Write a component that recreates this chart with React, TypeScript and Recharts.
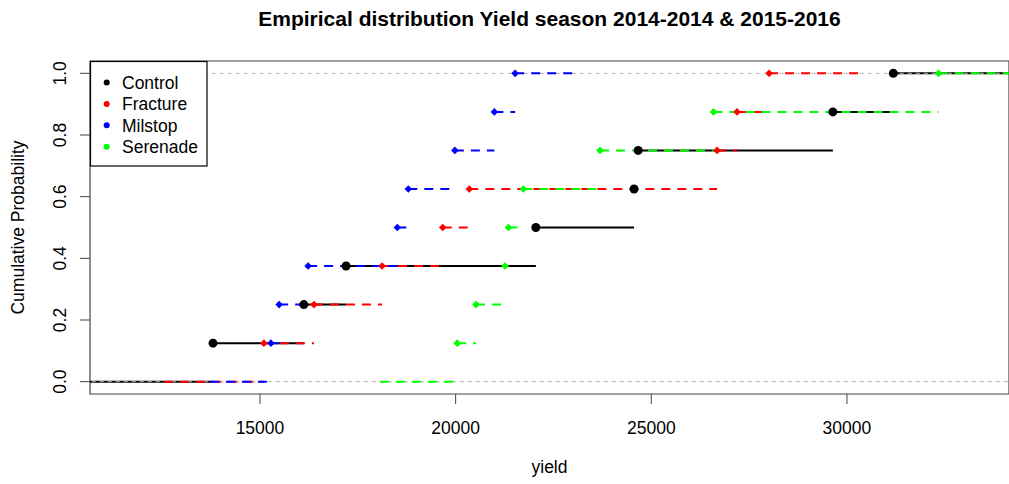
import React from "react";
import { ComposedChart, Line, XAxis, YAxis, ReferenceArea } from "recharts";

// ECDF step heights (8 observations per treatment)
const probs = [0.125, 0.25, 0.375, 0.5, 0.625, 0.75, 0.875, 1.0];

const seriesNames = ["Control", "Fracture", "Milstop", "Serenade"];
const seriesColors = ["#000000", "#ff0000", "#0000ff", "#00ff00"];

// sorted yields (knots)
const controlYield = [13800, 16120, 17200, 22050, 24560, 24665, 29640, 31185];
const fractureYield = [15100, 16380, 18120, 19670, 20350, 26680, 27190, 28010];
const milstopYield = [15280, 15490, 16230, 18510, 18790, 19980, 20990, 21520];
const serenadeYield = [20040, 20520, 21260, 21350, 21730, 23690, 26590, 32340];

// where each step function's first / last horizontal segment starts / stops
const lineStart = [9000, 12550, 13720, 18070];
const lineEnd = [36000, 30410, 23050, 36000];

const xTicks = [15000, 20000, 25000, 30000];
const yTicks = [0, 0.2, 0.4, 0.6, 0.8, 1.0];

const X_MIN = 10656;
const X_MAX = 34141;
const Y_MIN = -0.04;
const Y_MAX = 1.04;

const FONT = "'Liberation Sans', Arial, Helvetica, sans-serif";

const allYields = [controlYield, fractureYield, milstopYield, serenadeYield];

type Pt = { x: number; y: number | null; mark?: boolean };

function stepData(knots: number[], start: number, end: number): Pt[] {
  const out: Pt[] = [];
  const xs = [start, ...knots, end];
  const ys = [0, ...probs];
  for (let i = 0; i < ys.length; i++) {
    out.push({ x: xs[i], y: ys[i], mark: i > 0 });
    out.push({ x: xs[i + 1], y: ys[i] });
    out.push({ x: xs[i + 1], y: null });
  }
  return out;
}

const series = seriesNames.map((name, i) => ({
  name,
  color: seriesColors[i],
  data: stepData(allYields[i], lineStart[i], lineEnd[i]),
}));

const zeroLine: Pt[] = [
  { x: X_MIN - 2000, y: 0 },
  { x: X_MAX + 2000, y: 0 },
  { x: X_MAX + 2000, y: null },
  { x: X_MIN - 2000, y: 1 },
  { x: X_MAX + 2000, y: 1 },
];

const makeDot = (color: string, circle: boolean) => (props: any) => {
  const { cx, cy, payload, index } = props;
  if (!payload || !payload.mark || cy == null || cx == null) return <g key={index} />;
  if (circle) return <circle key={index} cx={cx} cy={cy} r={4.5} fill={color} />;
  const s = 3.8;
  return (
    <polygon
      key={index}
      points={`${cx},${cy - s} ${cx + s},${cy} ${cx},${cy + s} ${cx - s},${cy}`}
      fill={color}
    />
  );
};

const XTick = ({ x, payload }: any) => (
  <text x={x} y={434} textAnchor="middle" fontSize={17.5} fill="#000" fontFamily={FONT}>
    {payload.value}
  </text>
);

const YTick = ({ y, payload }: any) => (
  <text
    transform={`translate(66,${y}) rotate(-90)`}
    textAnchor="middle"
    fontSize={17.5}
    fill="#000"
    fontFamily={FONT}
  >
    {Number(payload.value).toFixed(1)}
  </text>
);

export default function App() {
  return (
    <div style={{ position: "absolute", left: 0, top: 0, width: 1009, height: 484, background: "#fff" }}>
      <ComposedChart width={1009} height={484} margin={{ top: 61, right: 0, left: 0, bottom: 0 }}>
        <XAxis
          type="number"
          dataKey="x"
          domain={[X_MIN, X_MAX]}
          allowDataOverflow
          ticks={xTicks}
          height={90}
          tickSize={10}
          axisLine={false}
          tickLine={{ stroke: "#444" }}
          tick={<XTick />}
        />
        <YAxis
          type="number"
          dataKey="y"
          domain={[Y_MIN, Y_MAX]}
          allowDataOverflow
          ticks={yTicks}
          width={90}
          tickSize={10}
          axisLine={false}
          tickLine={{ stroke: "#444" }}
          tick={<YTick />}
        />
        <ReferenceArea x1={X_MIN} x2={X_MAX} y1={Y_MIN} y2={Y_MAX} fill="none" stroke="#444" strokeWidth={1.2} />
        <Line
          data={series[0].data}
          dataKey="y"
          type="linear"
          stroke={series[0].color}
          strokeWidth={2}
          dot={makeDot(series[0].color, true)}
          activeDot={false}
          isAnimationActive={false}
        />
        <Line
          data={zeroLine}
          dataKey="y"
          type="linear"
          stroke="#b3b3b3"
          strokeWidth={1}
          strokeDasharray="4 4"
          dot={false}
          activeDot={false}
          isAnimationActive={false}
        />
        {series.slice(1).map((s) => (
          <Line
            key={s.name}
            data={s.data}
            dataKey="y"
            type="linear"
            stroke={s.color}
            strokeWidth={2}
            strokeDasharray="9 7"
            dot={makeDot(s.color, false)}
            activeDot={false}
            isAnimationActive={false}
          />
        ))}
      </ComposedChart>
      <svg
        width={1009}
        height={484}
        style={{ position: "absolute", left: 0, top: 0, pointerEvents: "none" }}
      >
        <text x={549.5} y={26} textAnchor="middle" fontSize={21} fontWeight="bold" fontFamily={FONT} fill="#000">
          Empirical distribution Yield season 2014-2014 &amp; 2015-2016
        </text>
        <text x={549.5} y={473} textAnchor="middle" fontSize={17.5} fontFamily={FONT} fill="#000">
          yield
        </text>
        <text
          transform="translate(24,227.5) rotate(-90)"
          textAnchor="middle"
          fontSize={17.5}
          fontFamily={FONT}
          fill="#000"
        >
          Cumulative Probability
        </text>
        <rect x={90.5} y={61.5} width={116.5} height={104.5} fill="#fff" stroke="#000" strokeWidth={1.2} />
        {seriesNames.map((n, i) => (
          <g key={n}>
            <circle cx={106.7} cy={82.5 + i * 21.4} r={3} fill={seriesColors[i]} />
            <text x={122} y={88.8 + i * 21.4} fontSize={17.5} fontFamily={FONT} fill="#000">
              {n}
            </text>
          </g>
        ))}
      </svg>
    </div>
  );
}
